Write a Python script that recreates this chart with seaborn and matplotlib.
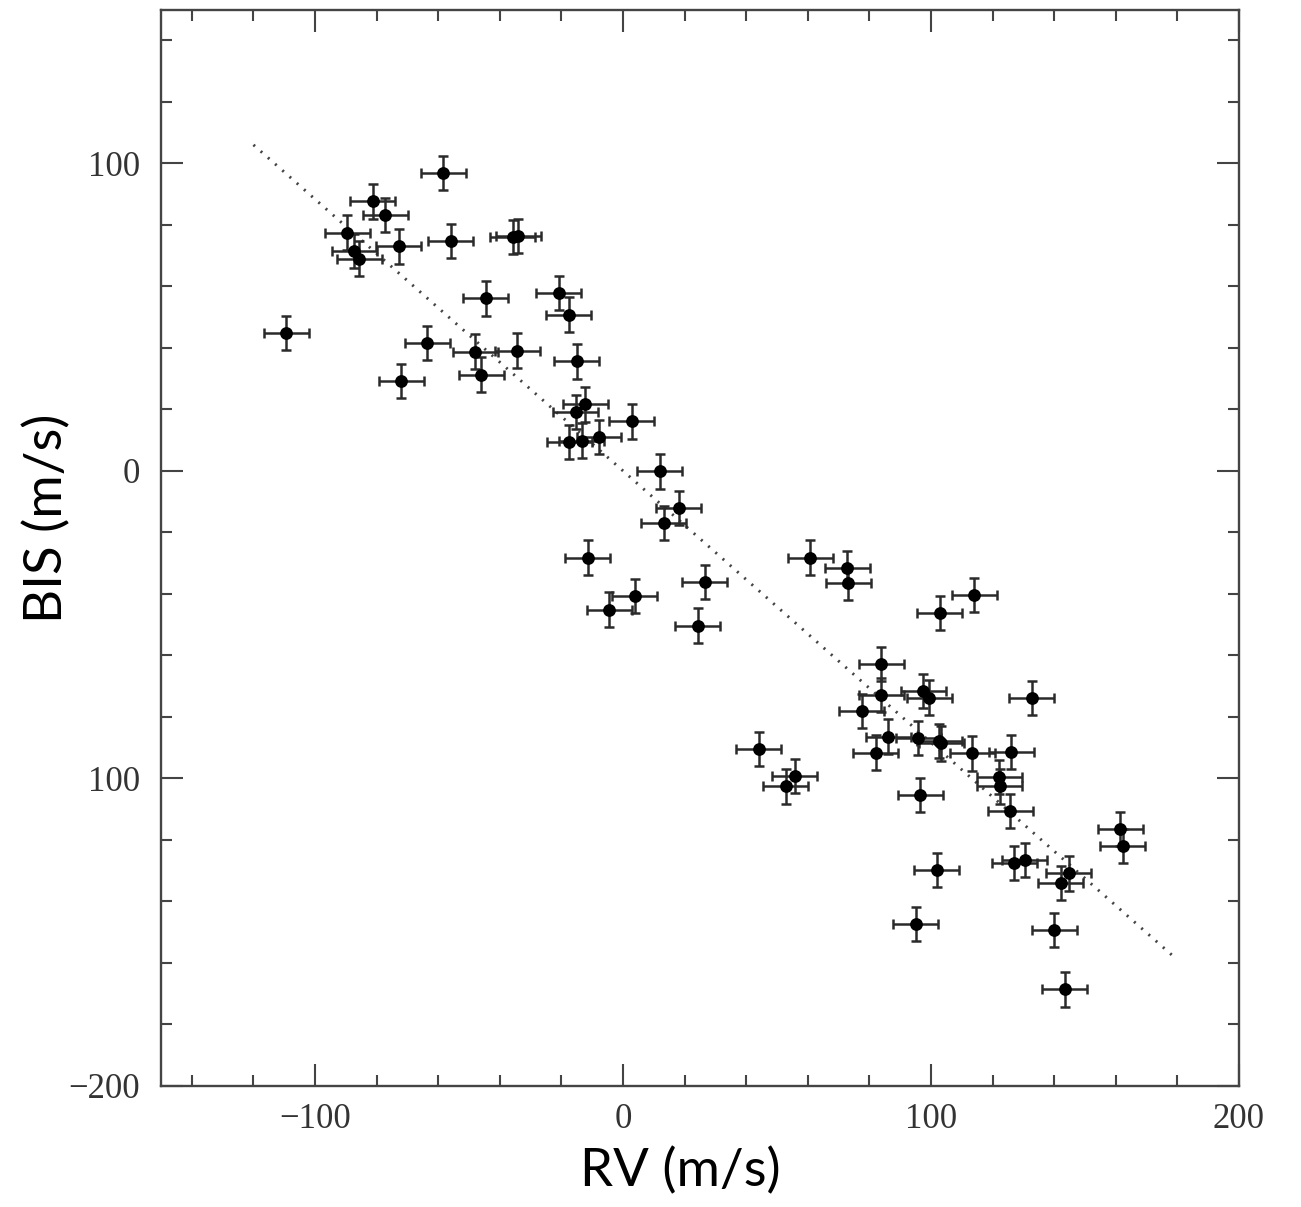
import numpy as np
import pandas as pd
import matplotlib
matplotlib.use("Agg")
import matplotlib.pyplot as plt
from matplotlib.ticker import FixedLocator, FixedFormatter, MultipleLocator
import seaborn as sns

# ---- data ----
rv = [-109.3, -89.6, -87.2, -85.6, -81.3, -77.2, -72.9, -72.0, -63.5, -58.3,
      -55.9, -48.0, -46.0, -44.6, -35.8, -34.0, -34.4, -20.8, -17.7, -15.1,
      -12.2, -15.3, -17.5, -13.4, -7.8, 2.9, 12.0, 18.1, 13.2, -11.5,
      26.6, 3.8, -4.4, 24.3, 60.8, 72.8, 73.1, 114.1, 102.9, 83.9,
      83.9, 97.5, 99.4, 77.5, 86.2, 95.8, 102.7, 103.3, 113.4, 82.1,
      44.1, 55.8, 52.8, 96.5, 132.7, 126.0, 122.1, 122.3, 125.7, 161.4,
      162.3, 127.0, 130.5, 101.8, 144.8, 142.2, 95.1, 140.1, 143.4]
bis = [44.9, 77.5, 71.4, 69.0, 87.6, 83.2, 73.0, 29.3, 41.5, 96.9,
       74.7, 38.8, 31.3, 56.1, 76.0, 76.3, 39.1, 57.8, 50.8, 35.6,
       21.6, 19.1, 9.4, 9.8, 11.0, 16.1, -0.2, -12.1, -16.9, -28.2,
       -36.1, -40.7, -45.1, -50.3, -28.2, -31.6, -36.4, -40.4, -46.2, -62.8,
       -72.8, -71.5, -73.7, -78.1, -86.4, -86.9, -87.9, -88.6, -91.9, -91.6,
       -90.5, -99.2, -102.6, -105.4, -73.8, -91.5, -99.5, -102.6, -110.6, -116.4,
       -122.0, -127.6, -126.6, -129.8, -130.9, -134.1, -147.4, -149.3, -168.6]
rv_err = 7.3
bis_err = 5.6

fit_x = [-120, 180]
fit_y = [106, -159]

x_ticks = [-100, 0, 100, 200]
x_ticklabels = ["\u2212100", "0", "100", "200"]
y_ticks = [-200, -100, 0, 100]
y_ticklabels = ["\u2212200", "100", "0", "100"]

df = pd.DataFrame({"RV": rv, "BIS": bis})

sns.set_style("ticks")
plt.rcParams["font.family"] = ["DejaVu Sans"]

fig = plt.figure(figsize=(13.01, 12.07), dpi=100)
ax = fig.add_axes([0.1238, 0.1003, 0.8285, 0.8918])

# fit line
sns.lineplot(x=fit_x, y=fit_y, ax=ax, color="#444444", lw=2.1,
             linestyle=(0, (0.7, 2.6)), estimator=None, sort=False)

# error bars
ax.errorbar(df["RV"], df["BIS"], xerr=rv_err, yerr=bis_err, fmt="none",
            ecolor="#2a2a2a", elinewidth=1.8, capsize=3.4, capthick=1.8, zorder=2)

# points
sns.scatterplot(data=df, x="RV", y="BIS", ax=ax, color="black", s=85,
                edgecolor="black", linewidth=0, zorder=3)

ax.set_xlim(-150, 200)
ax.set_ylim(-200, 150)

ax.xaxis.set_major_locator(FixedLocator(x_ticks))
ax.xaxis.set_major_formatter(FixedFormatter(x_ticklabels))
ax.yaxis.set_major_locator(FixedLocator(y_ticks))
ax.yaxis.set_major_formatter(FixedFormatter(y_ticklabels))
ax.xaxis.set_minor_locator(MultipleLocator(20))
ax.yaxis.set_minor_locator(MultipleLocator(20))

edge = "#444444"
ax.tick_params(which="both", direction="in", top=True, right=True,
               color=edge, width=1.5)
ax.tick_params(which="major", length=16)
ax.tick_params(which="minor", length=8)
ax.tick_params(axis="x", which="major", pad=12, labelsize=25, labelcolor="#333333")
ax.tick_params(axis="y", which="major", pad=15, labelsize=25, labelcolor="#333333")
for lab in ax.get_xticklabels() + ax.get_yticklabels():
    lab.set_family("Liberation Serif")

for sp in ax.spines.values():
    sp.set_visible(True)
    sp.set_color(edge)
    sp.set_linewidth(1.7)

ax.set_xlabel("RV (m/s)", fontsize=38, family="Lato", color="black", labelpad=8)
ax.set_ylabel("BIS (m/s)", fontsize=38, family="Lato", color="black", labelpad=-2)
ax.xaxis.label.set_x(0.482)
ax.yaxis.label.set_y(0.527)

fig.savefig("out.png", dpi=100)
